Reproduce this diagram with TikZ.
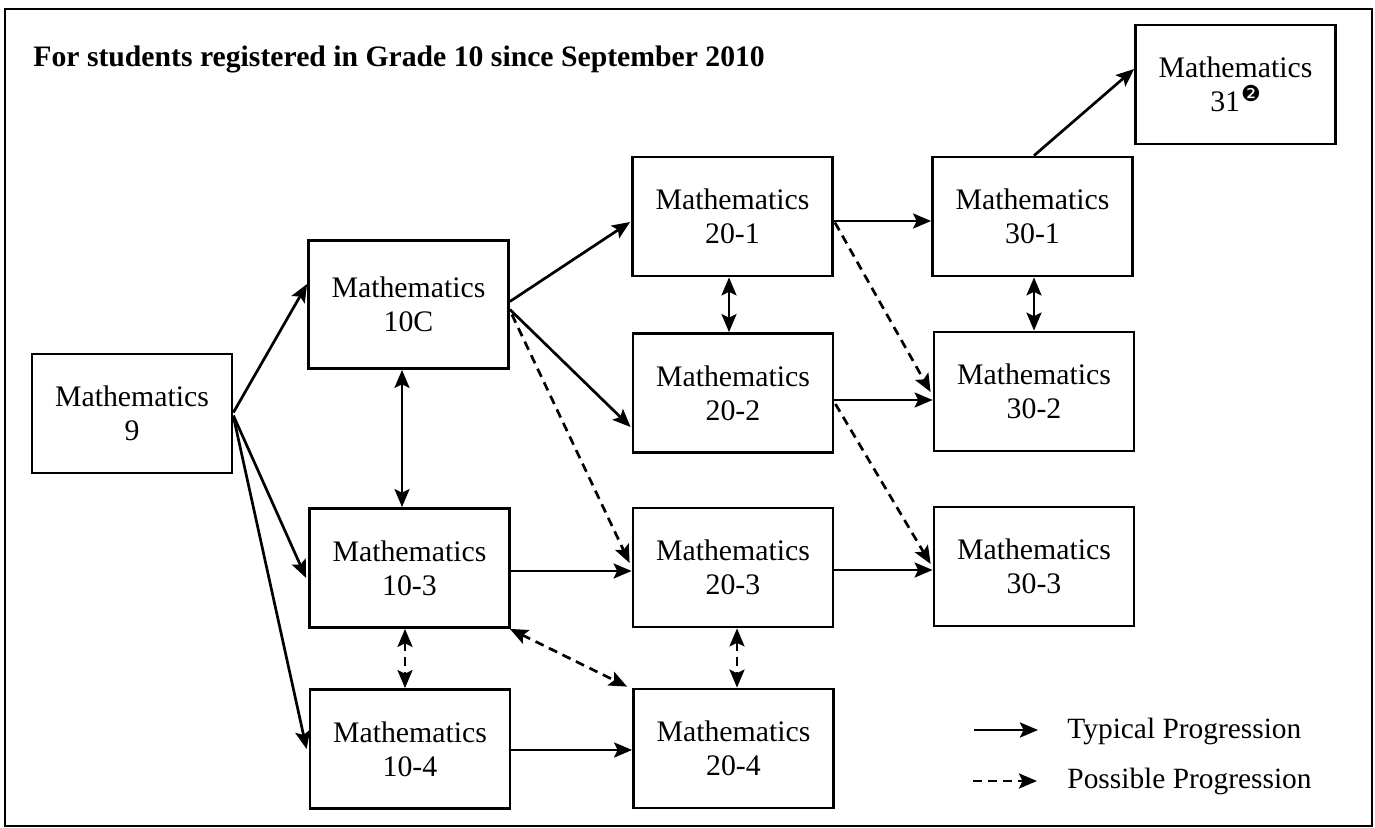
\documentclass[tikz,border=0pt]{standalone}
\usepackage{fontspec}
\setmainfont{Liberation Serif}
\newfontfamily\dejavu{DejaVu Sans}
\usetikzlibrary{arrows.meta,calc}
\begin{document}
\begin{tikzpicture}[x=0.5pt,y=-0.5pt,
  tip/.tip={Stealth[length=9pt,width=7.5pt,inset=1.8pt]},
  box/.style={draw,line width=1.4pt,minimum width=100pt,minimum height=59.5pt,
    inner sep=0pt,align=center,font=\fontsize{14.9}{17}\selectfont},
  conn/.style={line width=1.35pt,-tip},
  both/.style={line width=1.35pt,tip-tip},
  poss/.style={conn,dash pattern=on 4.5pt off 3pt},
  possboth/.style={both,dash pattern=on 4.5pt off 3pt},
  lbl/.style={anchor=base west,inner sep=0pt,font=\fontsize{14.7}{17}\selectfont}]
\useasboundingbox (0,0) rectangle (1375,828);
\draw[line width=1.1pt] (5,9) rectangle (1372,826);
\node[anchor=base west,inner sep=0pt,font=\fontsize{14.85}{17}\selectfont\bfseries] (title) at (33,67)
  {For students registered in Grade 10 since September 2010};
% boxes
\node[box] (m9) at (132,413.5) {Mathematics\\9};
\node[box,minimum height=64pt] (c10) at (408.5,304.5) {Mathematics\\10C};
\node[box] (t103) at (409.5,568) {Mathematics\\10-3};
\node[box] (t104) at (410,749) {Mathematics\\10-4};
\node[box] (t201) at (732.5,216.5) {Mathematics\\20-1};
\node[box] (t202) at (733,393) {Mathematics\\20-2};
\node[box] (t203) at (733,567.5) {Mathematics\\20-3};
\node[box] (t204) at (733.5,748.5) {Mathematics\\20-4};
\node[box] (t301) at (1032.5,216.5) {Mathematics\\30-1};
\node[box] (t302) at (1034,391.5) {Mathematics\\30-2};
\node[box] (t303) at (1034,566.5) {Mathematics\\30-3};
\node[box] (t31) at (1235.5,84.5) {Mathematics\\31\kern0.5pt\raisebox{0.33em}{\dejavu\fontsize{11}{11}\selectfont ❷}};
% connectors
\draw[conn] ($(m9.east)+(0,-1)$) -- ($(c10.west)+(0,-20.5)$);
\draw[conn] ($(m9.east)+(0,2)$) -- ($(t103.west)+(-2,10)$);
\draw[conn] ($(m9.east)+(0,3)$) -- ($(t104.west)+(-2,0)$);
\draw[conn] ($(c10.east)+(0,-3)$) -- ($(t201.west)+(-1,5.5)$);
\draw[conn] ($(c10.east)+(0,5)$) -- ($(t202.west)+(-1,34)$);
\draw[poss] ($(c10.east)+(2,10)$) -- ($(t203.west)+(-2,-4.5)$);
\coordinate (a1) at ($(c10.south)+(-6.5,0)$);
\draw[both] (a1) -- (a1 |- t103.north);
\coordinate (a2) at ($(t103.east)+(0,3)$);
\draw[conn] (a2) -- (a2 -| t203.west);
\coordinate (a3) at ($(t103.south)+(-4.5,0)$);
\draw[possboth] (a3) -- (a3 |- t104.north);
\draw[possboth] ($(t103.south east)+(-1,0)$) -- ($(t204.north west)+(-5,-1)$);
\coordinate (a4) at ($(t104.east)+(0,1)$);
\draw[conn] (a4) -- (a4 -| t204.west);
\coordinate (a5) at ($(t201.east)+(0,4.5)$);
\draw[conn] (a5) -- (a5 -| t301.west);
\coordinate (a6) at ($(t201.south)+(-3.5,0)$);
\draw[both] (a6) -- (a6 |- t202.north);
\draw[poss] ($(t201.east)+(1,6)$) -- ($(t302.west)+(-2,0.5)$);
\coordinate (a7) at ($(t202.east)+(0,7)$);
\draw[conn] (a7) -- (a7 -| t302.west);
\draw[poss] ($(t202.east)+(1,11)$) -- ($(t303.west)+(-2,-2.5)$);
\coordinate (a8) at ($(t203.east)+(0,2.5)$);
\draw[conn] (a8) -- (a8 -| t303.west);
\coordinate (a9) at ($(t203.south)+(4,0)$);
\draw[possboth] (a9) -- (a9 |- t204.north);
\coordinate (a10) at ($(t301.south)+(1.5,0)$);
\draw[both] (a10) -- (a10 |- t302.north);
\draw[conn] ($(t301.north)+(1.5,0)$) -- ($(t31.west)+(0,-15.5)$);
% legend
\coordinate (l1a) at (974,730);
\coordinate (l1b) at (1038,730);
\coordinate (l2a) at (973,781);
\coordinate (l2b) at (1037,781);
\draw[conn] (l1a) -- (l1b);
\draw[poss] (l2a) -- (l2b);
\node[lbl] (lt1) at (1067,738) {Typical Progression};
\node[lbl] (lt2) at (1067,788) {Possible Progression};
\end{tikzpicture}
\end{document}
